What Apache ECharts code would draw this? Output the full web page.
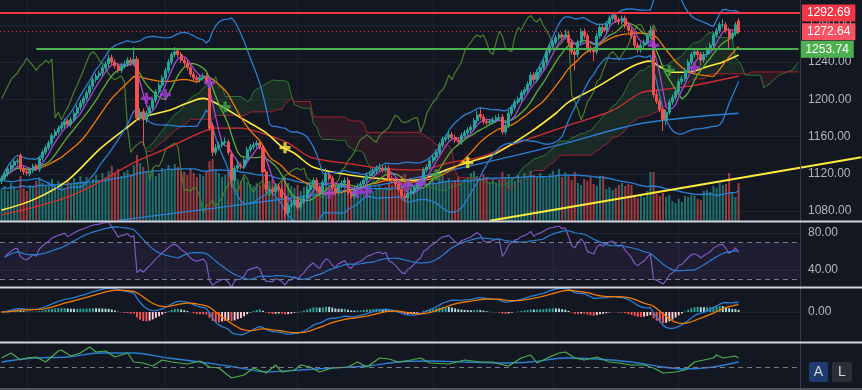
<!DOCTYPE html>
<html><head><meta charset="utf-8">
<script src="https://cdn.jsdelivr.net/npm/echarts@6/dist/echarts.min.js"></script>
<style>html,body{margin:0;padding:0;background:#131722;}#c{width:862px;height:390px;}</style>
</head><body><div id="c"></div>
<script>
// ---------- DATA ----------
const opens = [1112,1115,1120,1125,1129,1133,1140,1126,1122,1120,
1124,1129,1125,1137,1143,1148,1153,1161,1165,1169,
1172,1177,1173,1178,1185,1191,1196,1201,1207,1214,
1221,1225,1228,1234,1238,1245,1240,1236,1231,1236,
1238,1242,1239,1243,1180,1187,1178,1185,1191,1199,
1208,1215,1223,1231,1240,1248,1252,1248,1242,1239,
1234,1227,1223,1221,1223,1225,1212,1172,1143,1148,
1151,1154,1154,1141,1113,1126,1129,1128,1135,1146,
1149,1151,1153,1148,1122,1103,1103,1101,1106,1103,
1096,1078,1086,1087,1092,1084,1090,1094,1103,1108,
1113,1105,1100,1111,1119,1115,1105,1100,1107,1110,
1113,1100,1096,1103,1107,1109,1113,1118,1120,1123,
1125,1126,1124,1126,1115,1113,1109,1103,1096,1094,
1099,1101,1105,1110,1113,1124,1127,1134,1138,1143,
1151,1157,1159,1162,1159,1156,1154,1161,1164,1167,
1170,1177,1184,1181,1176,1175,1176,1178,1180,1181,
1165,1172,1185,1191,1197,1200,1207,1210,1216,1226,
1221,1229,1234,1240,1251,1257,1261,1266,1269,1267,
1269,1261,1251,1248,1261,1273,1268,1255,1253,1251,
1268,1277,1274,1281,1287,1290,1285,1283,1287,1279,
1274,1268,1258,1253,1258,1261,1268,1274,1205,1198,
1189,1178,1186,1197,1202,1208,1219,1222,1231,1240,
1248,1251,1248,1242,1248,1253,1258,1269,1274,1280,
1280,1274,1266,1271,1284];
const closes = [1115,1120,1125,1129,1133,1134,1125,1122,1121,1124,
1128,1126,1137,1143,1148,1153,1161,1165,1169,1172,
1176,1173,1178,1185,1191,1196,1201,1207,1214,1221,
1225,1228,1234,1238,1244,1240,1236,1231,1236,1238,
1242,1239,1243,1180,1186,1178,1185,1191,1199,1208,
1215,1223,1231,1240,1248,1251,1248,1242,1239,1234,
1227,1223,1221,1223,1225,1219,1169,1143,1148,1151,
1154,1154,1143,1113,1126,1129,1128,1135,1146,1149,
1151,1153,1149,1122,1103,1103,1101,1106,1103,1095,
1078,1086,1087,1092,1084,1090,1094,1103,1108,1113,
1105,1100,1111,1119,1115,1105,1100,1107,1110,1113,
1100,1096,1103,1107,1109,1113,1118,1120,1123,1125,
1126,1124,1126,1115,1113,1109,1103,1096,1094,1099,
1101,1105,1110,1113,1124,1127,1134,1138,1143,1151,
1157,1159,1162,1159,1156,1154,1161,1164,1167,1170,
1177,1183,1181,1176,1175,1176,1178,1180,1180,1165,
1172,1185,1191,1197,1200,1207,1210,1216,1226,1221,
1229,1234,1240,1251,1257,1261,1266,1269,1267,1269,
1261,1251,1248,1261,1273,1268,1255,1253,1251,1268,
1277,1274,1281,1287,1290,1285,1283,1287,1279,1274,
1268,1258,1253,1258,1261,1268,1274,1205,1198,1189,
1178,1186,1197,1202,1208,1219,1222,1231,1240,1248,
1251,1248,1242,1248,1253,1258,1269,1274,1280,1280,
1274,1266,1271,1280,1272.64];
const highs = [1118,1123,1127,1132,1136,1137,1142,1128,1125,1127,
1131,1131,1139,1146,1151,1156,1164,1168,1172,1176,
1179,1179,1181,1188,1194,1199,1204,1210,1217,1224,
1228,1231,1237,1241,1248,1248,1243,1239,1239,1241,
1245,1245,1256,1246,1190,1190,1188,1194,1202,1211,
1218,1226,1234,1243,1251,1256,1255,1251,1245,1242,
1237,1230,1226,1226,1228,1228,1215,1175,1152,1154,
1157,1159,1157,1144,1129,1134,1132,1138,1149,1152,
1154,1156,1156,1151,1125,1107,1106,1109,1109,1106,
1099,1089,1091,1095,1095,1093,1097,1106,1111,1116,
1116,1108,1114,1126,1122,1118,1108,1110,1113,1116,
1116,1103,1106,1110,1112,1116,1121,1123,1126,1129,
1131,1129,1129,1129,1118,1116,1112,1106,1099,1102,
1104,1108,1113,1116,1127,1130,1137,1141,1146,1154,
1160,1162,1166,1165,1162,1159,1164,1167,1170,1173,
1180,1188,1190,1184,1179,1179,1181,1183,1184,1184,
1175,1188,1194,1200,1203,1210,1213,1219,1229,1229,
1232,1237,1243,1254,1260,1264,1269,1272,1272,1275,
1272,1264,1254,1264,1276,1276,1271,1258,1256,1271,
1280,1280,1284,1290,1292.69,1291,1288,1290,1290,1282,
1277,1271,1261,1261,1264,1271,1279,1277,1210,1201,
1192,1189,1200,1205,1211,1222,1225,1234,1243,1251,
1254,1254,1251,1251,1256,1261,1272,1277,1283,1286,
1283,1277,1274,1283,1287];
const lows = [1109,1112,1117,1122,1126,1130,1122,1119,1118,1117,
1121,1123,1122,1134,1140,1145,1150,1158,1162,1166,
1169,1170,1170,1175,1182,1188,1193,1198,1204,1211,
1218,1222,1225,1231,1235,1237,1233,1228,1228,1233,
1235,1236,1236,1177,1177,1150,1175,1182,1188,1196,
1205,1212,1220,1228,1237,1245,1245,1239,1236,1231,
1224,1220,1218,1218,1220,1216,1166,1139,1140,1145,
1148,1150,1140,1106,1110,1123,1125,1125,1132,1143,
1146,1148,1146,1119,1100,1099,1097,1098,1100,1092,
1073,1075,1083,1084,1081,1081,1087,1091,1100,1105,
1102,1097,1097,1108,1112,1102,1097,1097,1104,1107,
1097,1093,1093,1100,1104,1106,1110,1115,1117,1120,
1122,1121,1121,1112,1110,1106,1100,1093,1090,1091,
1096,1098,1102,1107,1110,1121,1124,1131,1135,1140,
1148,1154,1156,1156,1153,1151,1151,1158,1161,1164,
1167,1174,1178,1173,1172,1172,1173,1175,1177,1162,
1162,1169,1182,1188,1194,1197,1204,1207,1213,1218,
1218,1226,1231,1237,1248,1254,1258,1263,1264,1264,
1258,1248,1231,1245,1258,1265,1252,1250,1241,1248,
1265,1271,1271,1278,1284,1282,1280,1280,1276,1271,
1265,1255,1250,1250,1255,1258,1265,1202,1195,1186,
1166,1172,1183,1194,1199,1205,1216,1219,1228,1237,
1245,1245,1236,1239,1245,1250,1255,1266,1271,1276,
1271,1254,1263,1268,1270];
const volumes = [32,35,30,38,34,31,45,33,30,36,
34,40,44,38,35,39,42,36,40,38,
33,41,37,43,39,45,40,44,38,42,
46,40,48,44,50,55,47,52,45,49,
51,47,56,66,58,54,50,47,52,45,
48,53,50,56,52,57,54,50,49,46,
52,48,44,47,45,50,60,62,52,48,
44,46,50,57,48,42,40,44,39,37,
35,38,36,45,47,40,42,38,36,41,
44,38,35,33,36,30,34,37,32,35,
31,33,36,38,30,34,32,29,31,35,
33,30,28,31,34,29,32,36,30,33,
35,31,34,38,36,40,42,45,47,40,
36,34,38,35,33,37,40,42,38,44,
46,40,43,38,41,45,39,42,44,48,
50,45,42,47,44,39,42,38,41,49,
44,47,43,40,46,42,48,45,50,46,
44,48,45,43,47,50,46,52,44,49,
45,41,49,38,36,42,40,44,37,35,
45,45,32,34,31,33,36,38,35,37,
36,25,23,26,24,30,49,49,27,25,
28,24,26,20,18,22,19,25,24,26,
25,22,21,30,31,29,35,33,38,36,
37,48,28,24,38];
// slow moving averages: [bar, price]
const yellowMA = [[0,1081],[10,1092],[21,1113],[31,1146],[40,1170],[44,1180],[53,1188],[59,1196],[64,1201],[68,1196],[76,1180],[84,1164],[89,1149],[93,1142],[99,1127],[110,1119],[120,1115],[131,1113],[136,1117],[141,1124],[148,1132],[157,1142],[168,1165],[176,1185],[180,1197],[189,1213],[200,1235],[206,1241],[209,1235],[213,1229],[218,1229],[224,1235],[229,1240],[234,1247.5]];
const redMA = [[0,1076],[10,1084],[21,1095],[31,1111],[42,1132],[53,1148],[63,1164],[68,1169],[76,1169],[84,1162],[91,1153],[98,1138],[110,1131],[120,1126],[131,1124],[136,1126],[141,1131],[152,1138],[162,1151],[173,1164],[180,1172],[194,1188],[203,1207],[209,1210],[220,1215],[234,1225]];
const blueMA = [[37,1070],[92,1094],[120,1108],[152,1131],[177,1151],[203,1174],[234,1185]];
// lower oscillator panel
const osc = [[0,9],[3,14],[6,7],[8,9],[11,10],[14,5],[18,16],[19,17],[22,11],[25,14],[28,20],[30,15],[33,16],[36,10],[40,14],[42,5],[45,4],[48,1],[51,7],[54,5],[59,3],[63,6],[66,0],[69,-1],[73,-11],[77,-8],[80,-1],[84,-6],[87,2],[89,-5],[93,-3],[95,2],[98,0],[101,-5],[105,-1],[110,0],[113,5],[116,0],[120,9],[123,8],[126,5],[130,7],[133,9],[136,4],[142,3],[147,7],[152,5],[156,5],[158,3],[161,1],[165,9],[168,12],[170,4],[174,10],[177,14],[179,15],[182,9],[185,7],[189,10],[193,5],[196,4],[200,2],[204,2],[207,-1],[210,-6],[214,-5],[217,-3],[220,5],[223,7],[226,9],[227,12],[229,9],[233,11],[234,9]];
const oscSignal = [[0,5],[10,9],[21,10],[31,14],[42,14],[53,9],[63,5],[74,0],[84,-5],[95,-3],[105,-1],[116,1],[126,5],[136,6],[147,5],[158,4],[168,5],[179,9],[189,8],[200,5],[210,0],[217,-2],[226,0],[234,5]];
// signal crosses [bar, price]
const crossPurple = [[46,1201],[52,1205],[66,1218],[104,1099],[113,1100],[116,1101],[129,1108],[133,1110],[207,1258],[220,1234]];
const crossGreen = [[71,1192],[138,1119],[212,1231]];
const crossYellow = [[90,1148],[148,1132]];
const trendLine = [[155,1069.5],[273,1137.8]];
const levelHigh = 1292.69, levelLast = 1272.64, levelSupport = 1253.74, supportStart = 11;
const priceTicks = [1080,1120,1160,1200,1240,1280];
const rsiTicks = [40,80];
const timeGridIdx = [8,52,94,137,175,215];
const FUTURE = 19;

// ---------- derived indicators ----------
const N = closes.length, M = N + FUTURE;
const cats = Array.from({length:M}, (_, i) => String(i));
const pad = a => a.concat(new Array(M - a.length).fill(null));
function sma(a, n){ return a.map((_, i) => { let s=0,c=0; for(let k=Math.max(0,i-n+1);k<=i;k++){ if(a[k]!=null){s+=a[k];c++;} } return c? s/c : null; }); }
function ema(a, n){ const k=2/(n+1); let e=null; return a.map(v => { if(v==null) return null; e = e==null ? v : v*k + e*(1-k); return e; }); }
const ma5 = sma(closes,5), ma10 = sma(closes,10), ma20 = sma(closes,20);
const bbU = [], bbL = [];
for (let i=0;i<N;i++){ const s=Math.max(0,i-19); let v=0; for(let k=s;k<=i;k++) v+=(closes[k]-ma20[i])**2; const sd=Math.sqrt(v/(i-s+1)); bbU.push(ma20[i]+2*sd); bbL.push(ma20[i]-2*sd); }
function hl(i,n){ let h=-Infinity,l=Infinity; for(let k=Math.max(0,i-n+1);k<=i;k++){ h=Math.max(h,highs[k]); l=Math.min(l,lows[k]); } return (h+l)/2; }
const spanA = new Array(M).fill(null), spanB = new Array(M).fill(null);
for (let i=20;i<N;i++){ const j=i+26; if (j>=M) break; spanA[j]=(hl(i,9)+hl(i,26))/2; spanB[j]=hl(i,52); }
const cloudBase = spanA.map((a,j)=> a==null?null:Math.min(a,spanB[j]));
const cloudG = spanA.map((a,j)=> a==null?null:Math.max(0,a-spanB[j]));
const cloudR = spanA.map((a,j)=> a==null?null:Math.max(0,spanB[j]-a));
const lagging = new Array(M).fill(null); for (let i=26;i<N;i++) lagging[i-26]=closes[i];
const volMA = sma(volumes,20);
// RSI 14
const rsi=[null]; { let d0=0; for(let i=1;i<=14;i++) d0+=Math.abs(closes[i]-closes[i-1]); let ag=d0/28, al=d0/28;
 for(let i=1;i<N;i++){ const d=closes[i]-closes[i-1]; ag=(ag*13+Math.max(d,0))/14; al=(al*13+Math.max(-d,0))/14; rsi.push(100-100/(1+ag/al)); } }
const rsiMA = sma(rsi,14);
// MACD
const e12=ema(closes,12), e26=ema(closes,26); const macd=e12.map((v,i)=>v-e26[i]); const sig=ema(macd,9); const hist=macd.map((v,i)=>v-sig[i]);
const mAbs=Math.max(...macd.map(Math.abs)); const u=mAbs/24; const mMax=24*u, mMin=-30*u;
const histData = hist.map((h,i)=>{ const p=i?hist[i-1]:0; let c; if(h>=0) c = h>=p?'#26a69a':'#b2dfdb'; else c = h<=p?'#ff5252':'#ffcdd2'; return {value:h, itemStyle:{color:c}}; });
const candles = opens.map((o,i)=>[o,closes[i],lows[i],highs[i]]);
const volData = volumes.map((v,i)=>({value:v, itemStyle:{color: closes[i]>=opens[i]?'rgba(38,166,154,0.62)':'rgba(239,83,80,0.62)'}}));

const PMIN=1069.3, PMAX=1306.6;
const FONT='Liberation Sans';
const LBL={color:'#b2b5be',fontSize:12,fontFamily:FONT,margin:8};
const GRIDC='#1f2330';
const AX = i => ({type:'category',gridIndex:i,data:cats,boundaryGap:true,axisLine:{show:false},axisTick:{show:false},axisLabel:{show:false},splitLine:{show:false}});
const YA = (i,min,max,ticks,fmt) => ({type:'value',gridIndex:i,position:'right',min,max,axisLine:{show:false},axisTick:{show:false},splitLine:{show:false},
  axisLabel: ticks ? Object.assign({},LBL,{customValues:ticks,formatter:fmt}) : {show:false}});
const line = (data,color,w,extra) => Object.assign({type:'line',data,showSymbol:false,symbol:'none',lineStyle:{color,width:w},itemStyle:{color},silent:true,z:2}, extra||{});
const vgrid = timeGridIdx.map(i=>({xAxis:i}));
const gridSeries = (xi,yi,extraLines) => ({type:'line',xAxisIndex:xi,yAxisIndex:yi,data:cats.map(()=>null),silent:true,z:0,
  markLine:{silent:true,symbol:['none','none'],z:0,label:{show:false},lineStyle:{color:GRIDC,width:1,type:'solid'},data:vgrid.concat(extraLines||[])}});
const plus = 'path://M3.5,0H6.5V3.5H10V6.5H6.5V10H3.5V6.5H0V3.5H3.5Z';

const option = {
  animation:false, backgroundColor:'#131722',
  textStyle:{fontFamily:FONT},
  grid:[
    {left:0,right:62,top:0,height:221},
    {left:0,right:62,top:222,height:65},
    {left:0,right:62,top:288,height:54},
    {left:0,right:62,top:343,height:45},
    {left:0,right:0,top:0,height:221}
  ],
  xAxis:[AX(0),AX(1),AX(2),AX(3),{type:'value',gridIndex:4,min:-0.5,max:862/(800/M)-0.5,show:false}],
  yAxis:[
    YA(0,PMIN,PMAX,priceTicks,v=>v.toFixed(2)),
    {type:'value',gridIndex:0,min:0,max:221,show:false},
    YA(1,21.6,91.9,rsiTicks,v=>v.toFixed(2)),
    YA(2,mMin,mMax,[0],v=>'0.00'),
    {type:'value',gridIndex:3,min:-21,max:24,show:false},
    {type:'value',gridIndex:4,min:PMIN,max:PMAX,show:false}
  ],
  series:[
    gridSeries(0,0,priceTicks.map(v=>({yAxis:v}))),
    {type:'bar',xAxisIndex:0,yAxisIndex:1,data:volData,barWidth:'65%',silent:true,z:1},
    line(volMA,'#2a7fd4',1.3,{xAxisIndex:0,yAxisIndex:1}),
    line(cloudBase,'transparent',0,{stack:'cloud',lineStyle:{opacity:0},z:1}),
    line(cloudG,'transparent',0,{stack:'cloud',lineStyle:{opacity:0},areaStyle:{color:'rgba(76,175,80,0.18)'},z:1}),
    line(cloudR,'transparent',0,{stack:'cloud',lineStyle:{opacity:0},areaStyle:{color:'rgba(242,54,69,0.15)'},z:1}),
    line(spanA,'#2f7a34',1,{z:1}),
    line(spanB,'#a3232f',1,{z:1}),
    line(lagging,'#4a7d2b',1.2),
    line(blueMA,'#2a7fd4',1.3,{smooth:0.3}),
    line(redMA,'#d32f2f',1.3,{smooth:0.3}),
    line(yellowMA,'#ffeb3b',1.6,{smooth:0.3}),
    line(pad(bbU),'#2a7fd4',1.3),
    line(pad(bbL),'#2a7fd4',1.3),
    line(pad(ma20),'#f57c00',1.3),
    line(pad(ma10),'#5fae3c',1.3),
    line(pad(ma5),'#a846d9',1.3),
    {type:'candlestick',xAxisIndex:0,yAxisIndex:0,data:candles,barWidth:'80%',z:3,silent:true,
      itemStyle:{color:'#26a69a',color0:'#ef5350',borderColor:'#26a69a',borderColor0:'#ef5350',borderWidth:1},
      markLine:{silent:true,symbol:['none','none'],z:6,
        label:{show:true,position:'end',formatter:'{b}',color:'#ffffff',fontSize:12,fontFamily:FONT,padding:[3,5,2,5],distance:2},
        data:[
          {name:levelHigh.toFixed(2),yAxis:levelHigh,lineStyle:{color:'#f23645',width:2,type:'solid'},label:{backgroundColor:'#f23645'}},
          {name:levelLast.toFixed(2),yAxis:levelLast,lineStyle:{color:'#f23645',width:1,type:[1,3]},label:{backgroundColor:'#f7525f'}},
          [{name:levelSupport.toFixed(2),coord:[supportStart,levelSupport],lineStyle:{color:'#4caf50',width:2,type:'solid'},label:{backgroundColor:'#4caf50'}},{coord:[M-1,levelSupport]}]
        ]}},
    {type:'scatter',data:crossPurple,symbol:plus,symbolSize:11,itemStyle:{color:'#a93bd8'},z:4,silent:true},
    {type:'scatter',data:crossGreen,symbol:plus,symbolSize:11,itemStyle:{color:'#43a047'},z:4,silent:true},
    {type:'scatter',data:crossYellow,symbol:plus,symbolSize:11,itemStyle:{color:'#ffeb3b'},z:4,silent:true},
    line(trendLine,'#ffeb3b',2,{xAxisIndex:4,yAxisIndex:5,z:4}),
    // RSI
    Object.assign(gridSeries(1,2,[{yAxis:80},{yAxis:40}]),{markArea:{silent:true,itemStyle:{color:'rgba(126,87,194,0.1)'},data:[[{yAxis:30},{yAxis:70}]]}}),
    {type:'line',xAxisIndex:1,yAxisIndex:2,data:cats.map(()=>null),silent:true,z:1,
      markLine:{silent:true,symbol:['none','none'],label:{show:false},lineStyle:{color:'#787b86',width:1,type:[5,4]},data:[{yAxis:70},{yAxis:30}]}},
    line(pad(rsi),'#7e57c2',1.2,{xAxisIndex:1,yAxisIndex:2}),
    line(pad(rsiMA),'#2a7fd4',1.2,{xAxisIndex:1,yAxisIndex:2}),
    // MACD
    gridSeries(2,3,[{yAxis:0}]),
    {type:'bar',xAxisIndex:2,yAxisIndex:3,data:histData,barWidth:'60%',silent:true,z:1},
    line(pad(macd),'#2a7fd4',1.3,{xAxisIndex:2,yAxisIndex:3}),
    line(pad(sig),'#f57c00',1.3,{xAxisIndex:2,yAxisIndex:3}),
    // lower oscillator
    gridSeries(3,4,[]),
    {type:'line',xAxisIndex:3,yAxisIndex:4,data:cats.map(()=>null),silent:true,z:1,
      markLine:{silent:true,symbol:['none','none'],label:{show:false},lineStyle:{color:'#787b86',width:1,type:[5,4]},data:[{yAxis:0}]}},
    line(oscSignal,'#2a7fd4',1.3,{xAxisIndex:3,yAxisIndex:4,smooth:0.3}),
    line(osc,'#4caf50',1.2,{xAxisIndex:3,yAxisIndex:4})
  ],
  graphic:[
    {type:'line',shape:{x1:800.5,y1:0,x2:800.5,y2:388},style:{stroke:'#363a45',lineWidth:1},z:100},
    {type:'line',shape:{x1:0,y1:221.5,x2:862,y2:221.5},style:{stroke:'#d1d4dc',lineWidth:2},z:100},
    {type:'line',shape:{x1:0,y1:287.5,x2:862,y2:287.5},style:{stroke:'#d1d4dc',lineWidth:2},z:100},
    {type:'line',shape:{x1:0,y1:342.5,x2:862,y2:342.5},style:{stroke:'#d1d4dc',lineWidth:2},z:100},
    {type:'line',shape:{x1:0,y1:389,x2:862,y2:389},style:{stroke:'#50535e',lineWidth:2},z:100},
    {type:'rect',shape:{x:809,y:362,width:19,height:20,r:2},style:{fill:'#1e3a6e'},z:100},
    {type:'text',x:818.5,y:372,style:{text:'A',fill:'#d1d4dc',font:'14px '+FONT,align:'center',verticalAlign:'middle'},z:101},
    {type:'rect',shape:{x:832,y:362,width:20,height:20,r:2},style:{fill:'#2a2e39'},z:100},
    {type:'text',x:842,y:372,style:{text:'L',fill:'#d1d4dc',font:'14px '+FONT,align:'center',verticalAlign:'middle'},z:101}
  ]
};
const chart = echarts.init(document.getElementById('c'), null, {width:862,height:390});
chart.setOption(option);
</script></body></html>
